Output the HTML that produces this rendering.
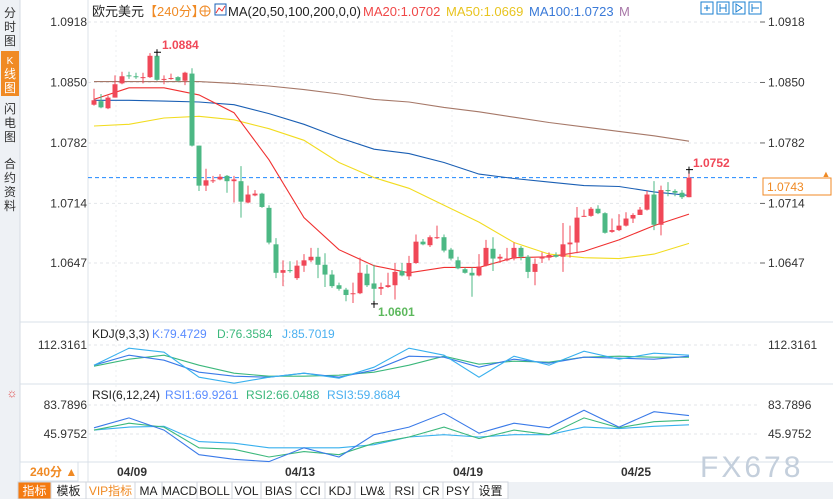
<!DOCTYPE html>
<html><head><meta charset="utf-8"><style>
body{margin:0;width:833px;height:499px;overflow:hidden;background:#fff;font-family:"Liberation Sans","Noto Sans CJK SC",sans-serif}
svg{display:block}
text{font-family:"Liberation Sans","Noto Sans CJK SC",sans-serif}
</style></head><body>
<svg id="c" width="833" height="499" viewBox="0 0 833 499" xmlns="http://www.w3.org/2000/svg">
<rect x="0" y="0" width="20" height="499" fill="#eef1f5"/>
<line x1="20" y1="0" x2="20" y2="482" stroke="#d5dbe3"/>
<g font-size="12" fill="#333" text-anchor="middle">
<g><text x="10" y="17">分</text><text x="10" y="31">时</text><text x="10" y="45">图</text></g>
<rect x="1" y="51" width="18" height="45" fill="#f08a24"/>
<g fill="#fff"><text x="10" y="64" font-size="10">K</text><text x="10" y="78">线</text><text x="10" y="92">图</text></g>
<g><text x="10" y="113">闪</text><text x="10" y="127">电</text><text x="10" y="141">图</text></g>
<g><text x="10" y="168">合</text><text x="10" y="182">约</text><text x="10" y="196">资</text><text x="10" y="210">料</text></g>
</g>
<line x1="88" y1="0" x2="88" y2="482" stroke="#dde3ea"/>
<line x1="20" y1="322" x2="833" y2="322" stroke="#d8e0e8"/>
<line x1="20" y1="384" x2="833" y2="384" stroke="#d8e0e8"/>
<line x1="20" y1="462" x2="833" y2="462" stroke="#d8e0e8"/>
<g id="grid"></g>
<g id="ma"></g>
<g id="candles"></g>
<g id="ind"></g>
<g id="labels" font-size="12" fill="#333"></g>
<text x="92" y="16" font-size="13" fill="#222">欧元美元</text>
<text x="144" y="16" font-size="13" fill="#f08a24">【240分】</text>
<g><circle cx="205" cy="11" r="5" fill="none" stroke="#f08a24"/><line x1="200" y1="11" x2="210" y2="11" stroke="#f08a24"/><line x1="205" y1="6" x2="205" y2="16" stroke="#f08a24"/></g>
<g><rect x="215" y="4" width="11" height="11" fill="#fff" stroke="#1a5fb4"/><polyline points="216,13 219,8 222,11 225,6" fill="none" stroke="#e33"/></g>
<text x="228" y="16" font-size="13" fill="#222">MA(20,50,100,200,0,0)</text>
<text x="363" y="16" font-size="13" fill="#f04848">MA20:1.0702</text>
<text x="446" y="16" font-size="13" fill="#e8c420">MA50:1.0669</text>
<text x="529" y="16" font-size="13" fill="#3a7ad8">MA100:1.0723</text>
<text x="619" y="16" font-size="13" fill="#a878a8">M</text>
<g fill="none" stroke="#1a7fd0">
<rect x="701" y="2" width="12" height="12"/><rect x="717" y="2" width="12" height="12"/><rect x="733" y="2" width="12" height="12"/><rect x="749" y="2" width="12" height="12"/>
<path d="M704 8h6M707 5v6M720 4v8M726 4v8M720 8h6M736 4v8l6-4zM752 4v8M752 8h7"/>
</g>
<text x="162" y="49" font-size="12" font-weight="bold" fill="#f04858">1.0884</text>
<text x="378" y="316" font-size="12" font-weight="bold" fill="#5cb85c">1.0601</text>
<text x="693" y="167" font-size="12" font-weight="bold" fill="#f04858">1.0752</text>
<rect x="763" y="178" width="68" height="17" fill="#fff" stroke="#f08a24"/>
<text x="767" y="191" font-size="12" fill="#f08a24">1.0743</text>
<text x="826" y="177" font-size="9" fill="#f08a24" text-anchor="middle">▲</text>
<text x="92" y="338" font-size="12" fill="#222">KDJ(9,3,3)</text>
<text x="152" y="338" font-size="12" fill="#5a8cff">K:79.4729</text>
<text x="217" y="338" font-size="12" fill="#3cb87c">D:76.3584</text>
<text x="282" y="338" font-size="12" fill="#4ab0f0">J:85.7019</text>
<text x="92" y="399" font-size="12" fill="#222">RSI(6,12,24)</text>
<text x="165" y="399" font-size="12" fill="#5a8cff">RSI1:69.9261</text>
<text x="246" y="399" font-size="12" fill="#3cb87c">RSI2:66.0488</text>
<text x="327" y="399" font-size="12" fill="#4ab0f0">RSI3:59.8684</text>
<text x="12" y="397" font-size="12" fill="#e04040" text-anchor="middle">☼</text>
<text x="700" y="477" font-size="30" fill="#c4cfdc" letter-spacing="3">FX678</text>
<rect x="20" y="462" width="58" height="19" fill="#fff" stroke="#d8e0e8"/>
<text x="30" y="476" font-size="12" fill="#f08a24" font-weight="bold">240分 ▲</text>
<g id="dates" font-size="12" font-weight="bold" fill="#333"></g>
<rect x="0" y="482" width="833" height="17" fill="#eef1f5"/>
<g id="tabs"></g>
</svg>
<script>
const closes=[1.0830,1.0822,1.0833,1.0848,1.0857,1.0857,1.0856,1.0856,1.0880,1.0853,1.0854,1.0855,1.0852,1.0861,1.0779,1.0734,1.0740,1.0740,1.0744,1.0739,1.0741,1.0716,1.0724,1.0725,1.0710,1.0670,1.0636,1.0639,1.0638,1.0644,1.0650,1.0654,1.0645,1.0634,1.0621,1.0618,1.0611,1.0613,1.0636,1.0622,1.0618,1.0620,1.0622,1.0637,1.0633,1.0647,1.0671,1.0668,1.0676,1.0676,1.0661,1.0652,1.0641,1.0636,1.0633,1.0643,1.0664,1.0652,1.0654,1.0652,1.0664,1.0654,1.0637,1.0646,1.0654,1.0656,1.0654,1.0668,1.0670,1.0698,1.0700,1.0708,1.0703,1.0681,1.0684,1.0689,1.0697,1.0701,1.0707,1.0724,1.0690,1.0729,1.0728,1.0726,1.0721,1.0743];
const opens=[1.0825,1.0829,1.0821,1.0833,1.0849,1.0858,1.0857,1.0855,1.0856,1.0880,1.0853,1.0854,1.0856,1.0852,1.0860,1.0779,1.0734,1.0739,1.0741,1.0745,1.0739,1.0739,1.0715,1.0723,1.0725,1.0709,1.0668,1.0636,1.0639,1.0630,1.0644,1.0650,1.0654,1.0645,1.0634,1.0622,1.0617,1.0612,1.0613,1.0635,1.0624,1.0618,1.0620,1.0622,1.0638,1.0632,1.0647,1.0671,1.0667,1.0675,1.0676,1.0662,1.0650,1.0640,1.0636,1.0633,1.0644,1.0663,1.0652,1.0650,1.0652,1.0664,1.0654,1.0637,1.0652,1.0653,1.0656,1.0654,1.0668,1.0670,1.0699,1.0700,1.0708,1.0703,1.0682,1.0684,1.0689,1.0697,1.0701,1.0707,1.0724,1.0690,1.0729,1.0728,1.0726,1.0721];
const highs=[1.0843,1.0837,1.0835,1.0858,1.0862,1.0862,1.0861,1.0861,1.0883,1.0884,1.0858,1.0860,1.0857,1.0862,1.0866,1.0779,1.0753,1.0745,1.0747,1.0746,1.0745,1.0756,1.0734,1.0729,1.0726,1.0712,1.0675,1.0650,1.0649,1.0650,1.0657,1.0664,1.0664,1.0658,1.0639,1.0625,1.0619,1.0625,1.0653,1.0645,1.0645,1.0625,1.0636,1.0647,1.0647,1.0655,1.0679,1.0674,1.0678,1.0689,1.0679,1.0664,1.0654,1.0642,1.0642,1.0657,1.0673,1.0676,1.0657,1.0664,1.0670,1.0666,1.0656,1.0652,1.0659,1.0659,1.0659,1.0692,1.0689,1.0710,1.0707,1.0710,1.0712,1.0704,1.0697,1.0702,1.0704,1.0703,1.0710,1.0728,1.0739,1.0734,1.0738,1.0730,1.0729,1.0752];
const lows=[1.0824,1.0821,1.0820,1.0833,1.0848,1.0854,1.0854,1.0849,1.0855,1.0852,1.0848,1.0853,1.0851,1.0847,1.0778,1.0728,1.0728,1.0737,1.0740,1.0726,1.0715,1.0698,1.0714,1.0722,1.0709,1.0668,1.0630,1.0621,1.0636,1.0628,1.0637,1.0648,1.0630,1.0620,1.0619,1.0616,1.0604,1.0602,1.0612,1.0620,1.0601,1.0611,1.0619,1.0606,1.0632,1.0628,1.0646,1.0667,1.0665,1.0674,1.0659,1.0650,1.0640,1.0635,1.0609,1.0632,1.0643,1.0638,1.0647,1.0649,1.0650,1.0650,1.0630,1.0622,1.0647,1.0650,1.0653,1.0637,1.0653,1.0658,1.0699,1.0699,1.0702,1.0680,1.0681,1.0683,1.0688,1.0692,1.0701,1.0706,1.0684,1.0678,1.0722,1.0722,1.0719,1.0721];
const knotIdx=[0,5,10,15,20,25,30,35,40,45,50,55,60,65,70,75,80,85];
const ma20=[1.0831,1.0844,1.0844,1.0836,1.0816,1.0763,1.0698,1.0662,1.0644,1.0636,1.0642,1.0642,1.0653,1.0654,1.0660,1.0673,1.0689,1.0702];
const ma50=[1.0801,1.0803,1.0810,1.0812,1.0808,1.0798,1.0785,1.0760,1.0743,1.0731,1.0712,1.0693,1.0670,1.0657,1.0653,1.0652,1.0657,1.0669];
const ma100=[1.0830,1.0830,1.0829,1.0828,1.0825,1.0815,1.0803,1.0788,1.0775,1.0770,1.0760,1.0747,1.0742,1.0738,1.0734,1.0733,1.0727,1.0723];
const ma200=[1.0851,1.0851,1.0851,1.0851,1.0849,1.0846,1.0842,1.0837,1.0831,1.0828,1.0822,1.0817,1.0811,1.0805,1.0800,1.0795,1.0790,1.0784];
const kdjK=[72,92,82,58,50,48,56,48,62,90,88,68,84,76,88,86,84,90];
const kdjD=[70,84,92,72,56,50,50,52,58,72,90,74,80,78,88,90,88,88];
const kdjJ=[72,106,98,48,36,48,56,46,68,106,92,48,90,72,100,84,96,92];
const rsi1=[54,67,51,19,13,10,28,16,45,55,73,47,60,54,77,55,75,70];
const rsi2=[51,60,55,28,26,16,23,19,34,42,55,40,51,45,67,54,62,64];
const rsi3=[51,55,56,36,34,28,28,28,32,42,45,42,45,45,55,53,56,58];
const priceTicks=["1.0918","1.0850","1.0782","1.0714","1.0647"];
const kdjTicks=["112.3161"];
const rsiTicks=["83.7896","45.9752"];
const dateLabels=["04/09","04/13","04/19","04/25"];
const dateIdx=[3,27,51,75];
const lastPrice=1.0743;
const tabs=["指标","模板","VIP指标","MA","MACD","BOLL","VOL","BIAS","CCI","KDJ","LW&","RSI","CR","PSY","设置"];
const tabEdges=[18,51,86,135,162,197,232,261,296,325,355,390,419,443,473,508];

const NS="http://www.w3.org/2000/svg";
const xC=i=>94+7*i;
const yP=p=>22+(1.0918-p)*8893;
const yK=v=>345+(112.3161-v)/2;
const yR=v=>405+(83.7896-v)/1.304;
function mk(tag,attrs,parent){const e=document.createElementNS(NS,tag);for(const k in attrs)e.setAttribute(k,attrs[k]);parent.appendChild(e);return e;}
const grid=document.getElementById('grid'),labels=document.getElementById('labels');
priceTicks.forEach(t=>{const y=yP(parseFloat(t));
 const l=mk('line',{x1:88,x2:760,y1:y,y2:y,stroke:'#e3e6ea','stroke-dasharray':'3,3'},grid);
 
 
 const a=mk('text',{x:87,y:y+4,'text-anchor':'end'},labels);a.textContent=t;
 
 
 const b=mk('text',{x:768,y:y+4},labels);b.textContent=t;
 
 
 mk('line',{x1:760,x2:765,y1:y,y2:y,stroke:'#666'},grid);
});
kdjTicks.forEach(t=>{const y=yK(parseFloat(t));
 mk('line',{x1:88,x2:760,y1:y,y2:y,stroke:'#e3e6ea','stroke-dasharray':'3,3'},grid);
 const a=mk('text',{x:87,y:y+4,'text-anchor':'end'},labels);a.textContent=t;
 
 
 const b=mk('text',{x:768,y:y+4},labels);b.textContent=t;
 
 
});
rsiTicks.forEach(t=>{const y=yR(parseFloat(t));
 mk('line',{x1:88,x2:760,y1:y,y2:y,stroke:'#e3e6ea','stroke-dasharray':'3,3'},grid);
 const a=mk('text',{x:87,y:y+4,'text-anchor':'end'},labels);a.textContent=t;
 
 
 const b=mk('text',{x:768,y:y+4},labels);b.textContent=t;
 
 
});
const dates=document.getElementById('dates');
dateLabels.forEach((d,k)=>{const x=xC(dateIdx[k])+1;
 mk('line',{x1:x,x2:x,y1:30,y2:462,stroke:'#eceff2','stroke-dasharray':'2,3'},grid);
 const t=mk('text',{x:x+1,y:476},dates);t.textContent=d;
 
 
});
const ll=mk('line',{x1:88,x2:760,y1:yP(lastPrice),y2:yP(lastPrice),stroke:'#1e88ff','stroke-dasharray':'4,3'},grid);


function poly(arr,ys,color,g,name){
 const pts=arr.map((v,k)=>xC(knotIdx[k])+','+ys(v).toFixed(1)).join(' ');
 const p=mk('polyline',{points:pts,fill:'none',stroke:color,'stroke-width':1.1},g);
 
 
}
const ma=document.getElementById('ma');
poly(ma200,yP,'#a67868',ma,'ma200-line');
poly(ma100,yP,'#1a5fb4',ma,'ma100-line');
poly(ma50,yP,'#f2dc20',ma,'ma50-line');
poly(ma20,yP,'#f03030',ma,'ma20-line');
const cg=document.getElementById('candles');
closes.forEach((c,i)=>{const o=opens[i],up=c>=o,col=up?'#f04858':'#4cb884',x=xC(i);
 const g=mk('g',{},cg);
 
 
 mk('line',{x1:x,x2:x,y1:yP(highs[i]),y2:yP(lows[i]),stroke:col},g);
 const t=Math.min(yP(o),yP(c)),h=Math.max(1,Math.abs(yP(o)-yP(c)));
 mk('rect',{x:x-2.5,y:t,width:5,height:h,fill:col},g);
});
function cross(i,p){const x=xC(i),y=yP(p);mk('path',{d:`M${x-3} ${y}h7M${x} ${y-3}v7`,stroke:'#000'},cg);}
let hi=0,lo=0;highs.forEach((h,i)=>{if(h>highs[hi])hi=i;});lows.forEach((l,i)=>{if(l<lows[lo])lo=i;});
cross(hi,highs[hi]);cross(lo,lows[lo]);cross(closes.length-1,highs[highs.length-1]);
const ind=document.getElementById('ind');
poly(kdjD,yK,'#3cb87c',ind,'kdj-d-line');
poly(kdjK,yK,'#3a7ae8',ind,'kdj-k-line');
poly(kdjJ,yK,'#38b0ee',ind,'kdj-j-line');
poly(rsi3,yR,'#38b0ee',ind,'rsi3-line');
poly(rsi2,yR,'#3cb87c',ind,'rsi2-line');
poly(rsi1,yR,'#3a7ae8',ind,'rsi1-line');
const tg=document.getElementById('tabs');
tabs.forEach((t,k)=>{const x0=tabEdges[k],x1=tabEdges[k+1];
 const r=mk('rect',{x:x0,y:482,width:x1-x0,height:17,fill:k===0?'#f47a10':'#fff',stroke:'#d0d6de'},tg);
 
 
 const tx=mk('text',{x:(x0+x1)/2,y:495,'text-anchor':'middle','font-size':12,fill:k===0?'#fff':(k===2?'#f08a24':'#222'),'font-family':'"Liberation Mono","Noto Sans CJK SC",monospace'},tg);
 tx.textContent=t;
 
 
});
</script>
</body></html>
